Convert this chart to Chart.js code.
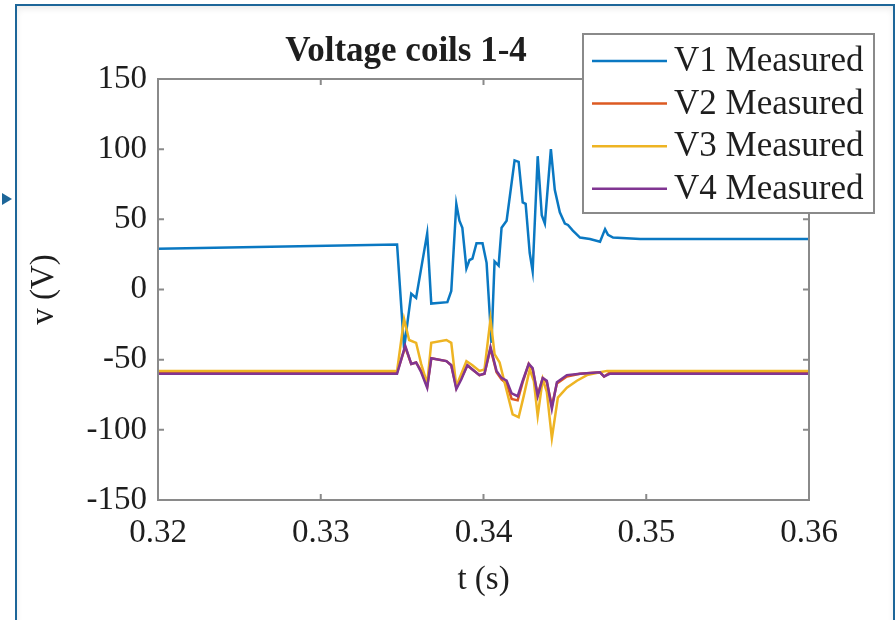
<!DOCTYPE html>
<html>
<head>
<meta charset="utf-8">
<script src="https://cdn.jsdelivr.net/npm/chart.js@4/dist/chart.umd.min.js"></script>
<style>
  html, body { margin: 0; padding: 0; background: #fff; }
  body { width: 895px; height: 620px; position: relative; overflow: hidden; }
  #frame {
    position: absolute; left: 15px; top: 4px; width: 876px; height: 640px;
    border: 2px solid #1d6699; box-shadow: inset 0 3px 6px rgba(0,0,0,0.08);
  }
  #arrow {
    position: absolute; left: 2px; top: 193px; width: 0; height: 0;
    border-top: 6px solid transparent; border-bottom: 6px solid transparent;
    border-left: 10px solid #1d6699;
  }
  #chart { position: absolute; left: 0; top: 0; }
</style>
</head>
<body>
<div id="frame"></div>
<div id="arrow"></div>
<canvas id="chart" width="895" height="620"></canvas>
<script>
// Time stamps (s) and voltages (V)
const tV1 = [0.32, 0.33469, 0.33512, 0.33556, 0.33586, 0.33654, 0.33679, 0.33778, 0.33802, 0.33833,
  0.33852, 0.33870, 0.33895, 0.33914, 0.33932, 0.33957, 0.33994, 0.34019, 0.34049, 0.34068,
  0.34093, 0.34111, 0.34142, 0.34191, 0.34216, 0.34241, 0.34259, 0.34284, 0.34302, 0.34333,
  0.34358, 0.34377, 0.34414, 0.34438, 0.34469, 0.34500, 0.34519, 0.34549, 0.34593, 0.34654,
  0.34716, 0.34747, 0.34765, 0.34796, 0.34963, 0.36];
const vV1 = [29, 32, -42, -3, -6, 40, -10, -9, -1, 61,
  49, 44, 15, 21, 22, 33, 33, 19, -38, 20,
  17, 44, 49, 92, 91, 62, 61, 26, 13, 95,
  53, 47, 100, 71, 55, 47, 46, 42, 37, 36,
  34, 43, 39, 37, 36, 36];

const tV24 = [0.32, 0.33469, 0.33519, 0.33556, 0.33586, 0.33617, 0.33654, 0.33679, 0.33772, 0.33802,
  0.33833, 0.33864, 0.33901, 0.33932, 0.33975, 0.34006, 0.34043, 0.34080, 0.34111, 0.34142,
  0.34173, 0.34210, 0.34241, 0.34278, 0.34302, 0.34333, 0.34364, 0.34389, 0.34420, 0.34451,
  0.34512, 0.34593, 0.34716, 0.34741, 0.34778, 0.36];
const vV2 = [-59, -59, -41, -53, -52, -58, -69, -49, -51, -54,
  -70, -63, -54, -57, -61, -60, -42, -59, -64, -67,
  -78, -79, -66, -53, -57, -75, -63, -66, -83, -67,
  -62, -60, -59, -62, -59, -59];
const vV4 = [-60, -60, -40, -53, -52, -59, -70, -49, -51, -54,
  -71, -64, -54, -57, -61, -60, -41, -58, -63, -65,
  -74, -76, -65, -53, -56, -76, -63, -65, -85, -66,
  -61, -60, -59, -62, -60, -60];

const tV3 = [0.32, 0.33469, 0.33512, 0.33543, 0.33586, 0.33617, 0.33654, 0.33679, 0.33772, 0.33802,
  0.33833, 0.33895, 0.33932, 0.33975, 0.34006, 0.34043, 0.34068, 0.34099, 0.34142, 0.34179,
  0.34216, 0.34247, 0.34284, 0.34309, 0.34333, 0.34364, 0.34389, 0.34420, 0.34457, 0.34512,
  0.34574, 0.34636, 0.34716, 0.34759, 0.36];
const vV3 = [-58, -58, -21, -36, -38, -53, -67, -38, -36, -38,
  -69, -51, -54, -58, -57, -21, -46, -52, -72, -89,
  -91, -76, -57, -65, -90, -64, -73, -106, -77, -70,
  -65, -61, -59, -58, -58];

const seriesNames = ['V1 Measured', 'V2 Measured', 'V3 Measured', 'V4 Measured'];
const seriesColors = ['#0a78c2', '#dc5a22', '#eeb423', '#803592'];
const xTicks = [0.32, 0.33, 0.34, 0.35, 0.36];
const yTicks = [-150, -100, -50, 0, 50, 100, 150];
const titleText = 'Voltage coils 1-4';

const SERIF = '"Liberation Serif", "Times New Roman", serif';
const AXIS = '#8a8a8a';
const TEXT = '#1e1e1e';

function pts(ts, vs) {
  return ts.map((t, i) => ({ x: t, y: vs[i] }));
}

const seriesData = [pts(tV1, vV1), pts(tV24, vV2), pts(tV3, vV3), pts(tV24, vV4)];

const datasets = seriesNames.map((name, i) => ({
  label: name,
  data: seriesData[i],
  borderColor: seriesColors[i],
  backgroundColor: seriesColors[i],
  borderWidth: 2.5,
  pointRadius: 0,
  tension: 0,
  order: 4 - i
}));

// box, inward ticks, title and in-plot legend
const decorPlugin = {
  id: 'decor',
  afterDatasetsDraw(chart) {
    const { ctx, chartArea: a, scales } = chart;
    ctx.save();
    ctx.strokeStyle = AXIS;
    ctx.lineWidth = 2;
    ctx.strokeRect(a.left, a.top, a.right - a.left, a.bottom - a.top);
    ctx.beginPath();
    const tl = 6;
    xTicks.forEach(v => {
      const px = scales.x.getPixelForValue(v);
      ctx.moveTo(px, a.bottom); ctx.lineTo(px, a.bottom - tl);
      ctx.moveTo(px, a.top); ctx.lineTo(px, a.top + tl);
    });
    yTicks.forEach(v => {
      const py = scales.y.getPixelForValue(v);
      ctx.moveTo(a.left, py); ctx.lineTo(a.left + tl, py);
      ctx.moveTo(a.right, py); ctx.lineTo(a.right - tl, py);
    });
    ctx.stroke();

    // title
    ctx.fillStyle = TEXT;
    ctx.font = 'bold 35px ' + SERIF;
    ctx.textAlign = 'center';
    ctx.textBaseline = 'middle';
    ctx.fillText(titleText, 406, 52);

    // legend
    const lx = 583, ly = 34, lw = 291, lh = 179;
    ctx.fillStyle = '#fff';
    ctx.fillRect(lx, ly, lw, lh);
    ctx.strokeStyle = AXIS;
    ctx.lineWidth = 2;
    ctx.strokeRect(lx, ly, lw, lh);
    ctx.font = '35px ' + SERIF;
    ctx.textAlign = 'left';
    seriesNames.forEach((name, i) => {
      const y = 61 + i * 42.6;
      ctx.strokeStyle = seriesColors[i];
      ctx.lineWidth = 2.5;
      ctx.beginPath();
      ctx.moveTo(592, y); ctx.lineTo(667, y);
      ctx.stroke();
      ctx.fillStyle = TEXT;
      ctx.fillText(name, 674, y + 1);
    });
    ctx.restore();
  }
};

new Chart(document.getElementById('chart'), {
  type: 'line',
  data: { datasets },
  options: {
    responsive: false,
    animation: false,
    devicePixelRatio: 1,
    layout: { padding: { top: 79, right: 86, left: 0, bottom: 0 } },
    plugins: { legend: { display: false }, tooltip: { enabled: false } },
    scales: {
      x: {
        type: 'linear',
        min: 0.32, max: 0.36,
        afterBuildTicks: s => { s.ticks = xTicks.map(v => ({ value: v })); },
        afterFit: s => { s.height = 120; },
        grid: { display: false, drawTicks: false },
        border: { display: false },
        ticks: {
          color: TEXT, padding: 14,
          font: { family: SERIF, size: 33 },
          callback: v => v.toFixed(2)
        },
        title: { display: true, text: 't (s)', color: TEXT, font: { family: SERIF, size: 33 }, padding: { top: 0, bottom: 20 } }
      },
      y: {
        min: -150, max: 150,
        afterBuildTicks: s => { s.ticks = yTicks.map(v => ({ value: v })); },
        afterFit: s => { s.width = 158; },
        grid: { display: false, drawTicks: false },
        border: { display: false },
        ticks: {
          color: TEXT, padding: 11,
          font: { family: SERIF, size: 33 }
        },
        title: { display: true, text: 'v (V)', color: TEXT, font: { family: SERIF, size: 33 }, padding: { top: 25, bottom: 0 } }
      }
    }
  },
  plugins: [decorPlugin]
});
</script>
</body>
</html>
